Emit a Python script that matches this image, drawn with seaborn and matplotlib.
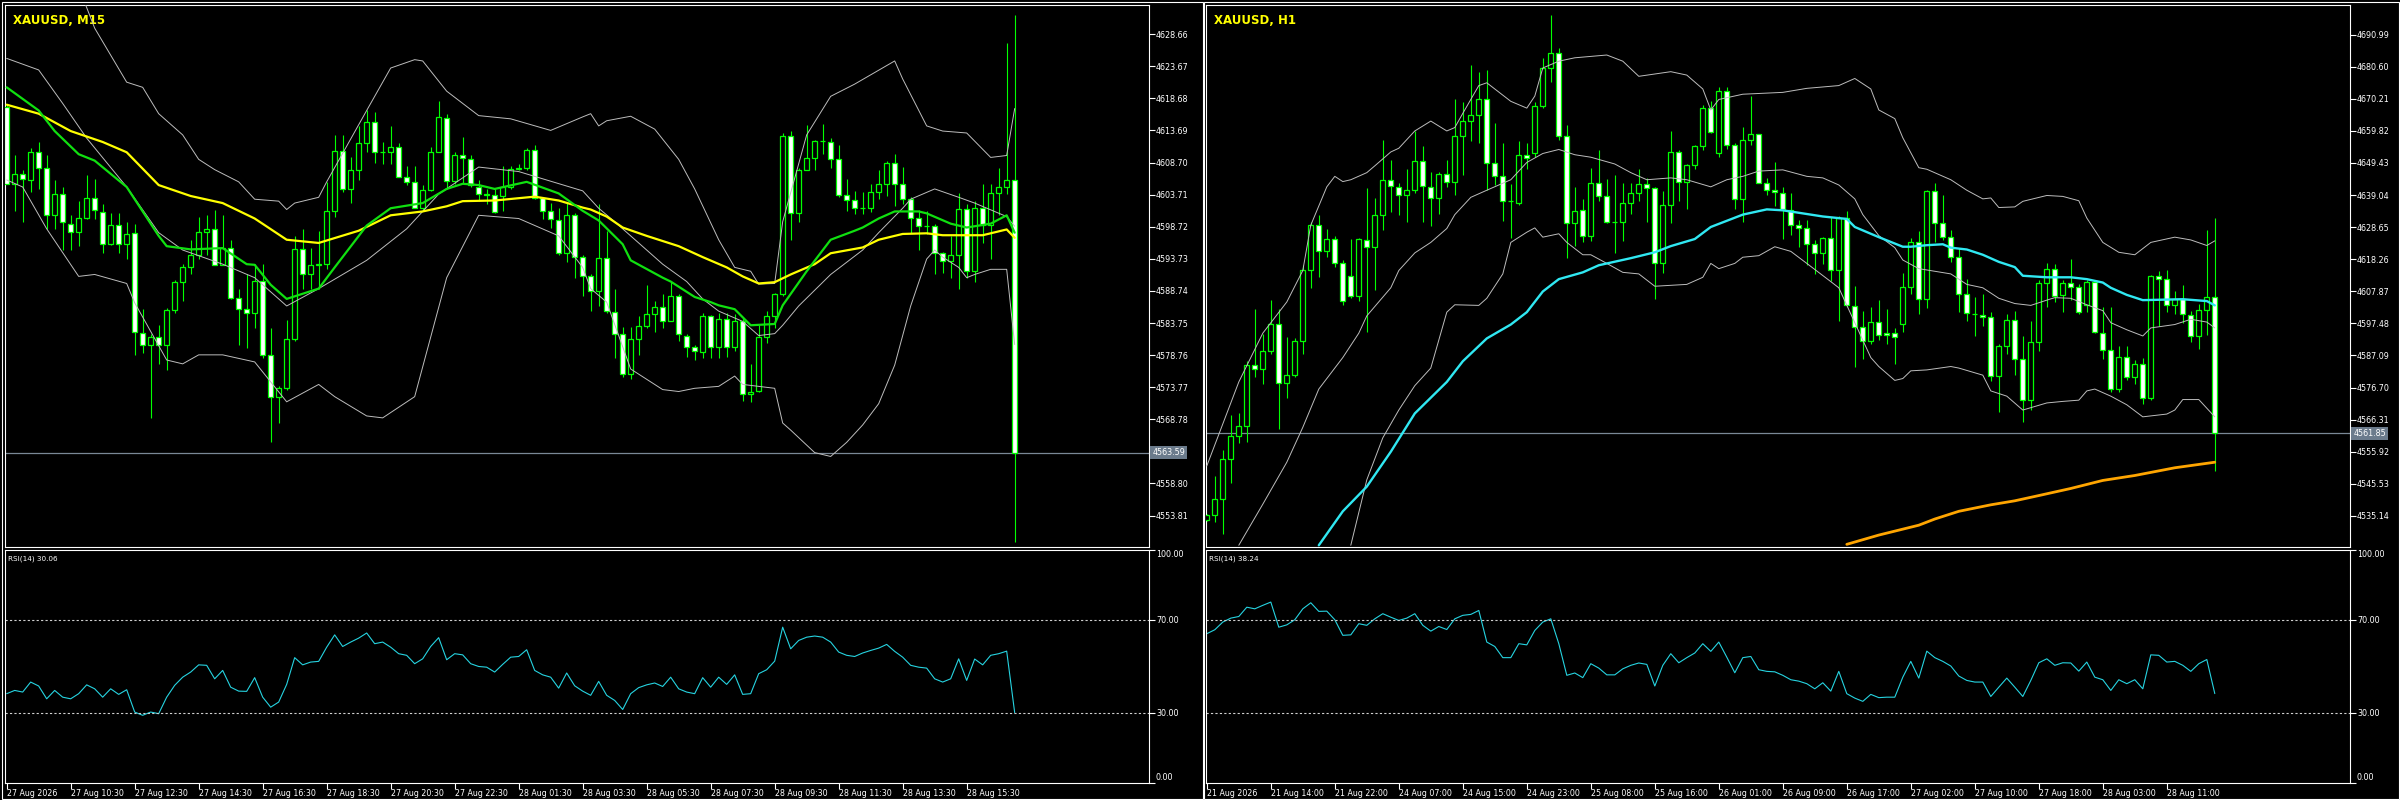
import numpy as np
import pandas as pd
import matplotlib
matplotlib.use("Agg")
import matplotlib.pyplot as plt
import matplotlib.transforms as mtrans
from matplotlib.patches import Rectangle
import seaborn as sns

# ---------------- XAUUSD M15 (left window) ----------------
m15_open = [
    4617.4, 4605.4, 4606.9, 4606.0, 4610.4, 4607.8, 4600.5, 4603.8, 4599.2, 4597.9,
    4600.1, 4603.2, 4601.0, 4596.0, 4599.0, 4596.0, 4597.7, 4582.2, 4580.3, 4581.5,
    4580.4, 4585.7, 4590.1, 4592.5, 4594.4, 4597.9, 4598.4, 4592.8, 4595.4, 4587.6,
    4585.9, 4585.3, 4590.3, 4578.7, 4572.3, 4573.6, 4581.3, 4595.3, 4591.3, 4592.7,
    4592.9, 4601.2, 4610.5, 4604.6, 4607.6, 4611.7, 4615.0, 4610.4, 4610.3, 4611.1,
    4606.5, 4605.6, 4601.7, 4604.5, 4610.4, 4615.7, 4605.9, 4609.9, 4609.2, 4604.9,
    4603.8, 4603.6, 4603.5, 4604.9, 4607.7, 4607.9, 4610.7, 4603.2, 4601.1, 4599.7,
    4594.6, 4600.5, 4594.0, 4591.0, 4588.7, 4593.9, 4585.5, 4582.1, 4575.8, 4581.3,
    4583.3, 4585.1, 4586.3, 4584.1, 4587.9, 4581.8, 4580.0, 4579.2, 4584.8, 4580.0,
    4584.4, 4580.0, 4584.1, 4572.7, 4573.2, 4581.6, 4584.9, 4588.2, 4612.8, 4600.8,
    4607.6, 4609.4, 4612.0, 4611.9, 4609.2, 4603.6, 4602.9, 4601.7, 4601.7, 4604.1,
    4605.3, 4608.7, 4605.3, 4603.0, 4600.1, 4598.9, 4598.9, 4594.6, 4593.4, 4594.3,
    4601.5, 4591.9, 4601.6, 4599.0, 4604.0, 4604.9, 4606.0]
m15_high = [
    4617.7, 4609.8, 4607.6, 4610.9, 4611.9, 4609.8, 4606.0, 4604.9, 4600.5, 4602.7,
    4606.8, 4606.2, 4602.2, 4600.8, 4600.8, 4599.5, 4599.2, 4585.9, 4582.1, 4583.4,
    4586.1, 4590.5, 4592.9, 4596.7, 4600.3, 4600.5, 4601.4, 4600.5, 4596.7, 4589.1,
    4591.3, 4592.9, 4592.9, 4582.9, 4573.9, 4584.2, 4597.3, 4598.4, 4595.4, 4598.1,
    4605.7, 4613.0, 4613.0, 4609.5, 4614.4, 4616.8, 4616.6, 4611.9, 4614.4, 4611.7,
    4608.2, 4608.2, 4605.2, 4611.1, 4618.2, 4616.3, 4610.3, 4612.6, 4609.8, 4606.0,
    4604.6, 4604.6, 4608.2, 4608.2, 4608.4, 4610.9, 4611.5, 4603.3, 4602.4, 4601.6,
    4602.4, 4600.8, 4594.3, 4591.3, 4602.2, 4598.1, 4589.1, 4583.2, 4583.2, 4584.8,
    4589.7, 4587.2, 4588.3, 4590.2, 4588.3, 4582.1, 4580.4, 4585.3, 4585.0, 4585.3,
    4585.3, 4585.1, 4584.5, 4577.3, 4583.4, 4585.6, 4588.4, 4613.3, 4613.6, 4607.9,
    4614.6, 4612.2, 4614.7, 4612.5, 4611.5, 4606.2, 4604.3, 4604.1, 4605.4, 4607.6,
    4609.0, 4610.1, 4608.0, 4603.3, 4601.4, 4601.1, 4599.2, 4594.8, 4597.3, 4603.9,
    4602.2, 4602.7, 4605.4, 4605.4, 4607.9, 4627.3, 4631.6]
m15_low = [
    4605.4, 4601.1, 4599.5, 4604.1, 4604.6, 4598.4, 4598.4, 4595.1, 4595.1, 4595.7,
    4600.0, 4600.0, 4594.6, 4595.9, 4594.6, 4593.7, 4578.8, 4579.1, 4569.0, 4577.4,
    4576.4, 4585.3, 4587.2, 4591.3, 4593.7, 4594.3, 4592.7, 4592.7, 4587.5, 4580.4,
    4579.9, 4582.9, 4578.3, 4565.2, 4568.2, 4573.4, 4581.0, 4589.1, 4589.1, 4589.1,
    4592.1, 4600.3, 4604.1, 4602.4, 4606.0, 4610.3, 4608.7, 4608.4, 4608.4, 4606.5,
    4605.2, 4601.6, 4601.4, 4604.3, 4610.3, 4604.6, 4605.4, 4605.4, 4604.9, 4602.7,
    4602.2, 4600.8, 4601.1, 4604.6, 4607.6, 4607.6, 4603.0, 4600.0, 4598.6, 4594.3,
    4593.2, 4590.8, 4588.0, 4585.6, 4586.4, 4585.3, 4578.3, 4575.3, 4575.0, 4578.8,
    4582.9, 4582.3, 4582.9, 4584.0, 4581.0, 4578.5, 4578.0, 4578.3, 4578.3, 4578.3,
    4578.4, 4579.4, 4571.7, 4571.5, 4573.1, 4580.7, 4582.9, 4588.0, 4596.7, 4599.5,
    4607.6, 4607.6, 4610.1, 4607.9, 4603.4, 4601.1, 4600.7, 4600.7, 4601.0, 4603.0,
    4603.5, 4601.9, 4602.2, 4597.8, 4595.1, 4597.6, 4591.3, 4591.6, 4590.8, 4589.1,
    4590.8, 4590.2, 4596.2, 4593.7, 4600.5, 4603.8, 4549.7]
m15_close = [
    4605.4, 4606.9, 4606.1, 4610.4, 4607.8, 4600.5, 4603.8, 4599.5, 4597.9, 4600.1,
    4603.2, 4601.3, 4596.1, 4599.0, 4596.1, 4597.6, 4582.3, 4580.3, 4581.6, 4580.4,
    4585.7, 4590.1, 4592.5, 4594.4, 4597.9, 4598.4, 4592.8, 4595.4, 4587.6, 4585.9,
    4585.3, 4590.3, 4578.8, 4572.3, 4573.6, 4581.3, 4595.3, 4591.3, 4592.7, 4593.0,
    4601.2, 4610.5, 4604.6, 4607.6, 4611.7, 4615.0, 4610.3, 4610.3, 4611.1, 4606.5,
    4605.6, 4601.7, 4604.5, 4610.4, 4615.8, 4605.9, 4609.9, 4609.4, 4605.2, 4603.8,
    4603.6, 4601.0, 4604.9, 4607.7, 4607.9, 4610.7, 4603.2, 4601.1, 4599.9, 4594.6,
    4600.5, 4594.0, 4591.0, 4588.7, 4593.9, 4585.6, 4582.1, 4575.8, 4581.3, 4583.3,
    4585.1, 4586.3, 4584.1, 4587.9, 4582.0, 4580.0, 4579.4, 4584.8, 4580.0, 4584.4,
    4580.0, 4584.1, 4572.7, 4573.1, 4581.6, 4584.9, 4588.2, 4612.8, 4600.8, 4607.6,
    4609.4, 4612.0, 4612.0, 4609.2, 4603.6, 4602.9, 4601.7, 4601.7, 4604.1, 4605.3,
    4608.7, 4605.3, 4603.0, 4600.1, 4598.9, 4598.9, 4594.7, 4593.4, 4594.3, 4601.5,
    4591.9, 4601.7, 4599.0, 4604.0, 4604.9, 4606.0, 4563.59]

# indicator readings as (bar, value)
m15_bb_upper = [
    (0, 4644.0), (5, 4644.0), (9, 4636.0), (11, 4629.6), (15, 4621.2), (17, 4620.4),
    (19, 4616.3), (22, 4613.0), (24, 4609.2), (26, 4607.6), (29, 4605.7), (31, 4603.0),
    (34, 4602.7), (35, 4601.4), (36, 4602.4), (39, 4603.3), (40, 4605.7), (45, 4616.8),
    (48, 4623.4), (51, 4624.7), (52, 4624.5), (55, 4619.8), (59, 4616.0), (63, 4615.5),
    (68, 4613.7), (72, 4615.8), (73, 4616.3), (74, 4614.4), (75, 4615.2), (78, 4615.9),
    (81, 4613.9), (84, 4609.2), (86, 4604.6), (89, 4596.7), (91, 4592.4), (93, 4591.8),
    (94, 4589.8), (96, 4589.9), (97, 4599.5), (98, 4604.0), (100, 4613.0), (103, 4619.0),
    (106, 4620.9), (111, 4624.5), (112, 4621.7), (115, 4614.4), (117, 4613.6),
    (120, 4613.3), (123, 4609.5), (125, 4609.8), (126, 4617.1)]
m15_bb_mid = [
    (0, 4624.9), (4, 4623.1), (7, 4617.9), (10, 4612.5), (15, 4604.9), (19, 4597.8),
    (22, 4595.1), (27, 4592.9), (31, 4590.8), (35, 4586.4), (39, 4589.1), (45, 4593.5),
    (50, 4598.4), (54, 4603.8), (59, 4608.0), (64, 4607.3), (72, 4604.3), (74, 4601.6),
    (76, 4599.5), (79, 4596.2), (82, 4592.9), (85, 4590.2), (87, 4587.5), (89, 4585.6),
    (92, 4584.0), (94, 4581.8), (96, 4582.1), (97, 4583.4), (99, 4586.4), (103, 4591.3),
    (107, 4595.1), (109, 4597.8), (112, 4601.6), (113, 4603.0), (116, 4604.6),
    (119, 4603.3), (121, 4602.4), (125, 4600.3), (126, 4598.8)]
m15_bb_lower = [
    (0, 4606.0), (2, 4604.9), (5, 4598.4), (9, 4591.0), (11, 4591.3), (15, 4589.9),
    (16, 4586.9), (20, 4578.0), (22, 4577.4), (24, 4578.8), (27, 4578.8), (31, 4577.7),
    (35, 4571.5), (39, 4574.2), (41, 4572.3), (45, 4569.3), (47, 4569.0), (51, 4572.3),
    (55, 4590.8), (59, 4600.5), (64, 4600.0), (69, 4597.3), (72, 4592.4), (73, 4589.1),
    (75, 4587.0), (78, 4576.6), (80, 4575.0), (82, 4573.4), (84, 4573.1), (86, 4573.6),
    (89, 4573.9), (91, 4575.5), (92, 4574.2), (96, 4573.6), (97, 4568.2), (98, 4567.1),
    (101, 4563.6), (103, 4563.0), (105, 4565.2), (107, 4567.9), (109, 4571.2),
    (111, 4577.2), (113, 4586.4), (115, 4593.7), (116, 4595.1), (117, 4594.0),
    (119, 4592.4), (120, 4590.8), (121, 4591.3), (123, 4592.1), (125, 4592.1), (126, 4580.4)]
m15_ma_green = [
    (0, 4620.4), (4, 4616.8), (6, 4613.6), (9, 4610.0), (11, 4609.0), (15, 4604.9),
    (17, 4601.1), (19, 4597.3), (20, 4595.7), (23, 4595.2), (27, 4595.4), (30, 4592.9),
    (31, 4592.8), (33, 4589.7), (35, 4587.5), (39, 4589.1), (41, 4592.4), (45, 4598.9),
    (48, 4601.6), (52, 4602.4), (55, 4604.6), (57, 4605.4), (59, 4605.2), (61, 4604.6),
    (65, 4605.7), (69, 4603.9), (72, 4601.2), (74, 4599.7), (77, 4596.0), (78, 4593.5),
    (82, 4590.8), (83, 4590.2), (86, 4587.8), (88, 4587.0), (89, 4586.5), (91, 4585.9),
    (93, 4583.4), (96, 4583.6), (97, 4586.5), (100, 4591.8), (103, 4596.7), (106, 4598.1),
    (107, 4598.6), (109, 4600.0), (111, 4601.1), (114, 4601.1), (115, 4600.8),
    (118, 4599.2), (120, 4598.6), (123, 4599.2), (125, 4600.5), (126, 4597.8)]
m15_ma_yellow = [
    (0, 4617.7), (4, 4616.3), (8, 4613.6), (12, 4611.9), (15, 4610.3), (19, 4605.2),
    (23, 4603.5), (27, 4602.4), (31, 4600.0), (35, 4596.7), (39, 4596.2), (44, 4598.1),
    (48, 4600.5), (52, 4601.1), (55, 4601.9), (57, 4602.7), (61, 4602.8), (66, 4603.4),
    (69, 4602.8), (72, 4601.7), (73, 4601.4), (75, 4600.3), (77, 4598.6), (80, 4597.3),
    (84, 4595.7), (87, 4594.0), (90, 4592.4), (92, 4591.0), (94, 4589.9), (96, 4590.1),
    (98, 4591.3), (101, 4592.9), (103, 4594.6), (107, 4595.5), (109, 4596.7),
    (112, 4597.6), (115, 4597.7), (117, 4597.4), (122, 4597.4), (125, 4598.3), (126, 4597.0)]
m15_rsi = [
    38.2, 39.6, 38.9, 43.2, 41.5, 36.0, 39.6, 36.7, 36.0, 38.2,
    42.0, 40.3, 36.7, 40.3, 37.9, 39.9, 30.3, 28.9, 30.3, 29.6,
    36.7, 41.8, 45.3, 47.5, 50.6, 50.4, 44.6, 48.2, 41.0, 39.3,
    39.2, 45.1, 36.7, 32.4, 34.6, 42.2, 53.7, 50.6, 51.8, 52.1,
    58.2, 63.5, 58.5, 60.4, 62.1, 64.3, 59.7, 60.4, 58.2, 55.4,
    54.7, 51.1, 53.2, 58.5, 62.3, 52.8, 55.4, 54.9, 51.1, 49.9,
    49.6, 47.5, 50.8, 53.9, 54.2, 57.1, 48.2, 46.3, 45.3, 40.6,
    47.1, 41.6, 39.3, 37.5, 43.5, 37.5, 35.3, 31.4, 38.2, 40.8,
    42.0, 42.8, 41.3, 45.3, 40.3, 38.9, 38.2, 45.1, 41.0, 45.3,
    42.2, 46.3, 37.9, 38.2, 46.8, 48.5, 52.2, 66.8, 57.5, 61.1,
    62.5, 63.0, 62.5, 60.4, 56.1, 54.7, 54.2, 55.7, 56.8, 57.8,
    59.4, 56.4, 53.9, 50.4, 49.6, 49.2, 44.6, 43.2, 44.6, 53.2,
    43.9, 53.1, 50.6, 54.7, 55.4, 56.5, 30.06]
m15_price_ticks = [4628.66, 4623.67, 4618.68, 4613.69, 4608.70, 4603.71, 4598.72, 4593.73,
                   4588.74, 4583.75, 4578.76, 4573.77, 4568.78, 4558.80, 4553.81]
m15_time_labels = ["27 Aug 2026", "27 Aug 10:30", "27 Aug 12:30", "27 Aug 14:30",
                   "27 Aug 16:30", "27 Aug 18:30", "27 Aug 20:30", "27 Aug 22:30",
                   "28 Aug 01:30", "28 Aug 03:30", "28 Aug 05:30", "28 Aug 07:30",
                   "28 Aug 09:30", "28 Aug 11:30", "28 Aug 13:30", "28 Aug 15:30"]

# ---------------- XAUUSD H1 (right window) ----------------
h1_open = [
    4533.8, 4535.5, 4540.6, 4553.6, 4560.9, 4564.3, 4583.9, 4582.7, 4588.4, 4597.3,
    4578.1, 4580.9, 4591.7, 4614.8, 4629.3, 4620.8, 4624.8, 4617.1, 4612.9, 4606.5,
    4624.4, 4622.2, 4632.5, 4643.8, 4641.7, 4639.2, 4640.8, 4650.2, 4641.7, 4638.1,
    4646.0, 4643.4, 4658.1, 4663.0, 4664.9, 4670.3, 4649.4, 4645.1, 4637.0, 4636.6,
    4651.9, 4652.5, 4668.0, 4680.2, 4684.9, 4658.1, 4629.9, 4634.1, 4625.9, 4643.1,
    4638.6, 4630.4, 4630.4, 4636.6, 4639.7, 4642.5, 4641.2, 4616.9, 4635.7, 4653.0,
    4643.4, 4648.7, 4655.0, 4667.2, 4652.7, 4672.8, 4655.1, 4637.8, 4657.0, 4658.7,
    4642.9, 4640.8, 4639.8, 4634.2, 4629.3, 4628.4, 4623.3, 4620.3, 4625.0, 4614.8,
    4631.6, 4603.1, 4596.3, 4591.8, 4597.9, 4594.3, 4594.3, 4597.4, 4609.2, 4623.9,
    4605.3, 4640.3, 4629.9, 4625.4, 4618.9, 4606.9, 4600.5, 4600.2, 4599.4, 4580.4,
    4590.3, 4598.6, 4585.8, 4572.6, 4591.5, 4610.7, 4615.2, 4606.7, 4610.7, 4609.2,
    4603.3, 4611.0, 4594.5, 4588.9, 4576.2, 4586.6, 4580.2, 4584.3, 4573.4, 4612.9,
    4612.0, 4603.3, 4605.3, 4600.2, 4593.4, 4601.8, 4606.1]
h1_high = [
    4535.7, 4547.9, 4556.4, 4567.7, 4568.3, 4585.2, 4602.2, 4594.0, 4605.0, 4602.2,
    4593.1, 4592.6, 4616.3, 4630.4, 4632.7, 4628.2, 4625.7, 4618.0, 4624.8, 4625.0,
    4641.2, 4638.1, 4657.0, 4650.4, 4642.9, 4647.4, 4659.8, 4654.9, 4646.5, 4646.6,
    4650.4, 4670.2, 4669.1, 4681.3, 4679.0, 4679.6, 4662.3, 4655.9, 4642.6, 4656.4,
    4655.9, 4669.1, 4683.3, 4697.3, 4686.7, 4661.7, 4641.7, 4637.8, 4647.9, 4653.6,
    4644.2, 4645.4, 4642.9, 4642.9, 4647.6, 4644.6, 4641.7, 4640.4, 4659.8, 4653.6,
    4649.1, 4655.3, 4668.3, 4669.4, 4673.9, 4673.9, 4655.9, 4661.2, 4671.1, 4658.9,
    4644.6, 4649.6, 4641.5, 4639.7, 4631.0, 4631.0, 4624.5, 4625.4, 4631.8, 4632.1,
    4633.8, 4609.5, 4601.6, 4602.8, 4604.9, 4602.0, 4596.0, 4613.7, 4625.0, 4627.3,
    4640.8, 4643.1, 4638.9, 4627.6, 4622.0, 4611.8, 4606.1, 4606.9, 4601.1, 4590.7,
    4600.5, 4601.6, 4593.4, 4598.2, 4611.4, 4616.9, 4616.6, 4611.5, 4618.2, 4610.1,
    4611.5, 4611.5, 4602.8, 4602.8, 4590.0, 4590.3, 4585.5, 4586.4, 4613.3, 4614.6,
    4614.8, 4607.8, 4609.9, 4601.6, 4603.9, 4627.6, 4631.6]
h1_low = [
    4533.6, 4533.0, 4529.3, 4545.7, 4558.7, 4559.2, 4580.2, 4577.9, 4587.5, 4563.2,
    4573.4, 4580.2, 4587.5, 4609.0, 4612.4, 4619.1, 4615.7, 4603.3, 4605.6, 4604.7,
    4594.8, 4608.4, 4627.6, 4633.6, 4632.7, 4630.2, 4639.7, 4630.4, 4629.1, 4632.9,
    4641.7, 4638.9, 4645.4, 4656.4, 4655.9, 4640.6, 4642.3, 4630.7, 4625.0, 4635.9,
    4647.4, 4651.3, 4667.2, 4675.6, 4657.0, 4618.6, 4622.5, 4623.9, 4624.2, 4637.2,
    4629.9, 4620.3, 4624.2, 4632.9, 4637.0, 4630.4, 4605.3, 4613.7, 4629.9, 4637.2,
    4634.4, 4647.4, 4653.6, 4659.3, 4651.3, 4653.9, 4634.4, 4630.2, 4655.1, 4642.9,
    4638.9, 4635.5, 4624.8, 4626.1, 4622.3, 4616.3, 4613.5, 4616.6, 4611.2, 4598.2,
    4602.7, 4583.2, 4585.8, 4590.7, 4592.2, 4590.9, 4584.3, 4594.8, 4607.0, 4600.5,
    4602.4, 4623.7, 4624.5, 4617.4, 4601.1, 4598.2, 4593.4, 4596.5, 4578.7, 4568.9,
    4587.5, 4580.7, 4565.5, 4569.4, 4588.6, 4602.8, 4604.4, 4601.1, 4605.0, 4600.5,
    4601.1, 4594.5, 4585.8, 4575.3, 4575.1, 4579.0, 4577.9, 4571.4, 4572.6, 4596.5,
    4601.1, 4600.5, 4597.7, 4591.5, 4589.2, 4593.7, 4549.6]
h1_close = [
    4535.5, 4540.6, 4553.6, 4560.9, 4564.3, 4584.1, 4582.7, 4588.4, 4597.3, 4578.1,
    4580.9, 4591.7, 4614.8, 4629.3, 4620.8, 4624.8, 4617.1, 4604.8, 4606.5, 4624.8,
    4622.2, 4632.5, 4643.8, 4642.0, 4639.2, 4640.8, 4650.2, 4642.0, 4638.1, 4646.0,
    4643.4, 4658.1, 4663.0, 4664.9, 4670.3, 4649.4, 4645.1, 4637.0, 4637.0, 4651.9,
    4651.2, 4668.0, 4680.2, 4684.9, 4658.1, 4629.9, 4633.8, 4625.9, 4643.1, 4638.6,
    4630.2, 4630.4, 4636.6, 4639.7, 4642.5, 4641.2, 4616.9, 4635.7, 4653.0, 4643.4,
    4648.7, 4655.0, 4667.2, 4659.6, 4672.8, 4655.1, 4637.8, 4657.0, 4658.7, 4642.9,
    4640.8, 4640.0, 4634.4, 4629.3, 4628.4, 4623.3, 4620.3, 4625.0, 4614.8, 4631.6,
    4603.3, 4596.3, 4591.8, 4597.9, 4593.7, 4593.7, 4592.9, 4609.2, 4623.9, 4605.3,
    4640.3, 4629.9, 4625.4, 4618.9, 4607.0, 4600.7, 4600.5, 4599.4, 4580.4, 4590.3,
    4598.6, 4586.0, 4572.6, 4591.5, 4610.7, 4615.2, 4606.5, 4610.7, 4609.2, 4601.1,
    4611.0, 4594.8, 4588.9, 4576.2, 4586.6, 4580.2, 4584.3, 4573.4, 4612.9, 4612.0,
    4603.3, 4605.3, 4600.5, 4593.4, 4601.8, 4606.1, 4561.85]

h1_bb_upper = [
    (0, 4551.3), (4, 4578.5), (7, 4594.3), (10, 4604.4), (12, 4614.6), (13, 4629.3),
    (15, 4641.7), (16, 4645.1), (17, 4643.4), (18, 4644.0), (20, 4646.3), (21, 4648.5),
    (23, 4653.0), (24, 4654.2), (26, 4659.8), (28, 4663.0), (30, 4659.8), (31, 4660.9),
    (32, 4665.5), (34, 4674.5), (35, 4675.4), (36, 4673.4), (38, 4669.4), (40, 4667.2),
    (41, 4671.1), (42, 4680.2), (44, 4682.4), (46, 4683.5), (50, 4684.4), (52, 4682.4),
    (54, 4677.5), (58, 4679.0), (60, 4677.9), (62, 4673.4), (63, 4666.6), (64, 4670.0),
    (67, 4671.7), (72, 4672.3), (75, 4673.6), (79, 4674.5), (81, 4676.8), (83, 4673.4),
    (84, 4666.6), (86, 4663.8), (87, 4657.6), (89, 4647.9), (90, 4647.4), (93, 4644.0),
    (95, 4640.6), (97, 4637.8), (98, 4638.1), (99, 4635.0), (101, 4635.2), (102, 4637.0),
    (105, 4638.9), (107, 4638.6), (109, 4637.2), (110, 4631.6), (112, 4623.7),
    (114, 4620.5), (116, 4619.7), (118, 4623.7), (121, 4625.4), (123, 4624.5),
    (125, 4622.7), (126, 4624.2)]
h1_bb_mid = [
    (4, 4525.6), (7, 4538.9), (10, 4552.5), (12, 4563.8), (14, 4576.2), (17, 4586.4),
    (19, 4594.3), (20, 4599.9), (23, 4609.0), (24, 4614.6), (26, 4620.3), (28, 4623.7),
    (30, 4628.2), (31, 4632.7), (33, 4638.3), (35, 4640.6), (38, 4644.0), (40, 4649.6),
    (42, 4652.5), (44, 4653.8), (46, 4652.1), (48, 4651.3), (51, 4649.1), (53, 4646.3),
    (55, 4644.0), (58, 4644.6), (60, 4644.0), (63, 4641.7), (65, 4644.0), (67, 4645.1),
    (69, 4646.8), (72, 4647.2), (75, 4645.1), (77, 4644.6), (79, 4642.3), (81, 4637.8),
    (82, 4632.7), (84, 4625.9), (86, 4622.0), (87, 4618.0), (89, 4615.2), (93, 4613.5),
    (95, 4610.1), (97, 4609.0), (99, 4605.6), (101, 4603.9), (103, 4603.3), (105, 4605.0),
    (106, 4605.8), (108, 4605.6), (110, 4603.5), (112, 4601.6), (113, 4597.7),
    (115, 4595.4), (117, 4593.4), (118, 4596.0), (121, 4597.1), (123, 4598.8),
    (125, 4597.9), (126, 4596.0)]
h1_bb_lower = [
    (18, 4525.6), (20, 4546.8), (22, 4560.4), (24, 4569.4), (26, 4577.3), (28, 4583.0),
    (30, 4601.1), (31, 4603.5), (34, 4603.3), (35, 4605.6), (37, 4613.5), (38, 4623.7),
    (40, 4627.0), (41, 4628.4), (42, 4625.4), (44, 4626.5), (45, 4623.7), (47, 4619.7),
    (48, 4619.7), (50, 4616.9), (52, 4614.0), (54, 4613.5), (56, 4609.5), (60, 4610.1),
    (62, 4612.4), (63, 4616.9), (64, 4615.2), (66, 4616.9), (67, 4618.9), (69, 4619.4),
    (71, 4622.3), (73, 4620.8), (75, 4616.9), (78, 4611.0), (79, 4609.0), (81, 4597.7),
    (83, 4586.4), (84, 4583.5), (86, 4579.0), (87, 4579.6), (88, 4582.1), (90, 4582.4),
    (93, 4583.5), (94, 4583.0), (97, 4580.7), (98, 4575.6), (100, 4573.9), (102, 4569.4),
    (105, 4571.7), (107, 4572.2), (109, 4572.6), (110, 4575.6), (111, 4576.2),
    (113, 4573.9), (115, 4571.1), (117, 4567.2), (120, 4568.1), (121, 4569.4),
    (122, 4572.8), (124, 4572.8), (126, 4567.2)]
h1_ma_cyan = [
    (14, 4525.6), (17, 4536.6), (20, 4544.6), (23, 4555.9), (26, 4568.3), (30, 4578.5),
    (32, 4585.2), (35, 4592.6), (38, 4597.1), (40, 4601.1), (42, 4607.8), (44, 4611.8),
    (47, 4614.0), (49, 4616.3), (53, 4618.6), (56, 4620.5), (58, 4622.5), (61, 4624.8),
    (63, 4628.7), (67, 4632.7), (70, 4634.4), (72, 4634.1), (74, 4633.3), (77, 4632.1),
    (80, 4631.3), (81, 4628.7), (84, 4625.4), (87, 4622.3), (88, 4622.3), (90, 4622.8),
    (92, 4623.1), (93, 4622.0), (95, 4621.4), (97, 4619.7), (99, 4617.4), (101, 4615.7),
    (102, 4612.9), (105, 4612.4), (108, 4612.4), (110, 4611.8), (112, 4610.7),
    (113, 4609.0), (115, 4606.7), (117, 4605.0), (122, 4605.3), (125, 4604.7), (126, 4603.3)]
h1_ma_orange = [
    (80, 4525.9), (84, 4528.9), (89, 4532.1), (91, 4534.1), (94, 4536.6), (98, 4538.7),
    (101, 4540.0), (104, 4541.7), (108, 4544.0), (112, 4546.6), (116, 4548.2),
    (121, 4550.7), (126, 4552.5)]
h1_rsi = [
    64.0, 65.7, 69.0, 70.7, 71.4, 75.4, 74.7, 76.2, 77.6, 66.8,
    67.8, 70.0, 74.7, 77.3, 73.6, 73.7, 70.0, 63.3, 63.5, 68.3,
    67.6, 70.4, 72.6, 71.1, 69.7, 70.7, 72.6, 67.6, 65.1, 67.1,
    65.8, 70.4, 71.9, 72.3, 74.0, 60.4, 58.5, 53.7, 53.7, 59.7,
    59.2, 65.4, 69.0, 70.4, 59.7, 46.1, 47.1, 45.1, 51.1, 49.2,
    46.3, 46.3, 48.9, 50.4, 51.4, 50.8, 41.5, 50.4, 55.4, 51.5,
    53.7, 55.7, 59.7, 56.4, 60.4, 53.9, 47.2, 53.7, 54.2, 48.5,
    47.8, 47.6, 46.1, 44.2, 43.6, 42.5, 40.3, 42.9, 39.3, 47.8,
    38.2, 36.3, 34.9, 37.9, 36.5, 36.7, 36.7, 45.3, 52.1, 44.9,
    56.5, 53.7, 52.1, 50.1, 45.8, 43.9, 43.2, 43.2, 37.0, 41.0,
    44.9, 41.0, 37.0, 43.9, 51.5, 53.2, 50.4, 51.5, 51.4, 47.9,
    51.8, 45.3, 44.2, 39.6, 44.2, 42.5, 44.2, 40.3, 54.9, 54.7,
    51.8, 52.1, 50.4, 47.8, 51.1, 52.9, 38.24]
h1_price_ticks = [4690.99, 4680.60, 4670.21, 4659.82, 4649.43, 4639.04, 4628.65, 4618.26,
                  4607.87, 4597.48, 4587.09, 4576.70, 4566.31, 4555.92, 4545.53, 4535.14]
h1_time_labels = ["21 Aug 2026", "21 Aug 14:00", "21 Aug 22:00", "24 Aug 07:00",
                  "24 Aug 15:00", "24 Aug 23:00", "25 Aug 08:00", "25 Aug 16:00",
                  "26 Aug 01:00", "26 Aug 09:00", "26 Aug 17:00", "27 Aug 02:00",
                  "27 Aug 10:00", "27 Aug 18:00", "28 Aug 03:00", "28 Aug 11:00"]

LIME = "#00FF00"
GREY = "#BDBDBD"

sns.set_theme(style="dark", rc={"axes.facecolor": "black", "figure.facecolor": "black"})
plt.rcParams["font.family"] = ["DejaVu Sans"]

W, H = 2400, 800
fig = plt.figure(figsize=(24, 8), dpi=100, facecolor="black")


def rect(x0, y0, x1, y1):
    # pixel box (top-left origin) -> figure fraction
    return [x0 / W, 1 - y1 / H, (x1 - x0) / W, (y1 - y0) / H]


def draw_line(ax, pairs, color, lw, z):
    df = pd.DataFrame(pairs, columns=["bar", "value"])
    sns.lineplot(data=df, x="bar", y="value", ax=ax, color=color, linewidth=lw,
                 errorbar=None, zorder=z)


def white_box(ax):
    for s in ax.spines.values():
        s.set_color("white")
        s.set_linewidth(0.8)


def chart(px0, title, o, h, l, c, lines, ticks, ylim, rsi, rsi_name, tlabels, x_left):
    n = len(o)
    bars = np.arange(n)
    xlim = (x_left, x_left + 1144 / 8)

    ax = fig.add_axes(rect(px0, 5, px0 + 1144, 546.5))
    ax.set_facecolor("black")
    o, h, l, c = (np.asarray(v) for v in (o, h, l, c))
    ax.axhline(c[-1], color="#7A8896", lw=0.9, zorder=1)
    ax.vlines(bars, l, h, color=LIME, lw=0.8, zorder=2)
    bear = c < o
    ax.bar(bars, np.abs(c - o), bottom=np.minimum(o, c), width=0.62,
           color=np.where(bear, "white", "black"), edgecolor=LIME, linewidth=0.9, zorder=3)
    for pairs, color, lw in lines:
        draw_line(ax, pairs, color, lw, 4 if lw > 1 else 3.5)

    ax.set_xlim(*xlim)
    ax.set_ylim(*ylim)
    ax.set_xlabel("")
    ax.set_ylabel("")
    ax.set_xticks([])
    ax.yaxis.tick_right()
    ax.set_yticks(ticks)
    ax.set_yticklabels([f"{t:.2f}" for t in ticks])
    ax.tick_params(axis="y", colors="white", labelcolor="white", length=4, width=0.8,
                   labelsize=5.8, pad=1, direction="out", right=True, left=False)
    white_box(ax)
    tr = mtrans.blended_transform_factory(ax.transAxes, ax.transData)
    ax.text(1.003, c[-1], f"{c[-1]:.2f}", transform=tr, ha="left", va="center",
            fontsize=5.8, color="white", clip_on=False, zorder=10,
            bbox=dict(boxstyle="square,pad=0.25", fc="#6B7B8C", ec="none"))
    ax.text(0.007, 0.983, title, transform=ax.transAxes, ha="left", va="top",
            color="#FFFF00", fontsize=8.5, fontweight="bold")

    rx = fig.add_axes(rect(px0, 550, px0 + 1144, 782.5))
    rx.set_facecolor("black")
    sns.lineplot(x=bars, y=rsi, ax=rx, color="#26D3E0", linewidth=0.8, errorbar=None)
    for lvl in (70, 30):
        rx.axhline(lvl, color="#D0D0D0", lw=0.8, ls=(0, (2, 2)))
    rx.set_xlim(*xlim)
    rx.set_ylim(0, 100)
    rx.set_xlabel("")
    rx.set_ylabel("")
    rx.yaxis.tick_right()
    rx.set_yticks([100, 70, 30, 0])
    rx.set_yticklabels(["100.00", "70.00", "30.00", "0.00"])
    rx.tick_params(axis="y", colors="white", labelcolor="white", length=4, width=0.8,
                   labelsize=5.8, pad=1, direction="out", right=True, left=False)
    ylabs = rx.get_yticklabels()
    ylabs[0].set_verticalalignment("top")
    ylabs[-1].set_verticalalignment("bottom")
    rx.set_xticks(np.arange(len(tlabels)) * 8)
    rx.set_xticklabels(tlabels, ha="left")
    rx.tick_params(axis="x", colors="white", labelcolor="white", length=4, width=0.8,
                   labelsize=5.7, pad=1, direction="out", bottom=True)
    white_box(rx)
    rx.text(0.003, 0.975, f"{rsi_name} {rsi[-1]:.2f}", transform=rx.transAxes,
            ha="left", va="top", color="white", fontsize=5.2)


chart(5, "XAUUSD, M15", m15_open, m15_high, m15_low, m15_close,
      [(m15_bb_upper, GREY, 0.7), (m15_bb_mid, GREY, 0.7), (m15_bb_lower, GREY, 0.7),
       (m15_ma_yellow, "#FFFF00", 1.6), (m15_ma_green, "#10E010", 1.6)],
      m15_price_ticks, (4549.0, 4633.2), m15_rsi, "RSI(14)", m15_time_labels, -0.21)

chart(1206, "XAUUSD, H1", h1_open, h1_high, h1_low, h1_close,
      [(h1_bb_upper, GREY, 0.7), (h1_bb_mid, GREY, 0.7), (h1_bb_lower, GREY, 0.7),
       (h1_ma_cyan, "#30E8F2", 1.7), (h1_ma_orange, "#FFA500", 2.0)],
      h1_price_ticks, (4525.2, 4700.6), h1_rsi, "RSI(14)", h1_time_labels, -0.1)

# window frames
for x0, x1 in ((1.5, 1202.5), (1204.0, 2398.5)):
    fig.add_artist(Rectangle((x0 / W, 1.5 / H), (x1 - x0) / W, (797.0) / H,
                             transform=fig.transFigure, fill=False, ec="white", lw=0.8))

fig.savefig("out.png", dpi=100, facecolor="black")
